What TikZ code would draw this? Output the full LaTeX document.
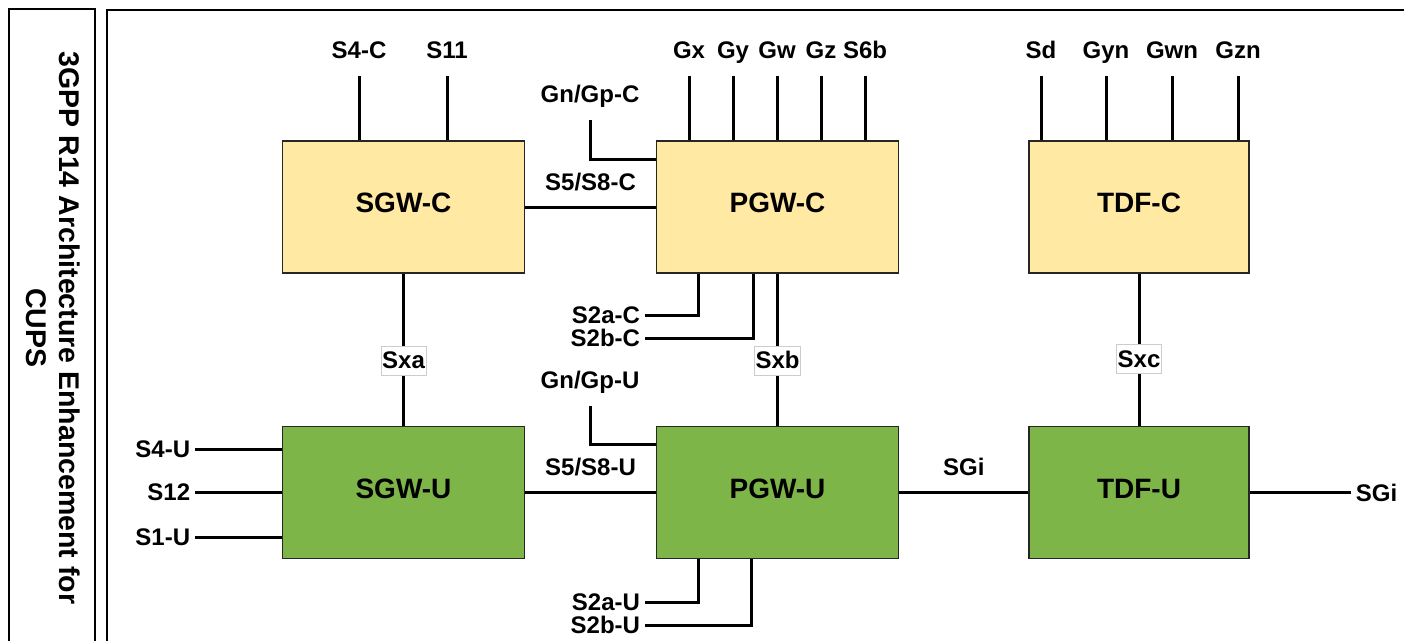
\documentclass[tikz,border=0pt]{standalone}
\usepackage{fontspec}
\setmainfont{Liberation Sans}
\usetikzlibrary{positioning, calc}
\definecolor{cpyellow}{HTML}{FFE9A3}
\definecolor{upgreen}{HTML}{7DB548}
\tikzset{
  nf/.style={draw=black!85, line width=1.8pt, minimum width=242pt, minimum height=132pt,
    text depth=8pt, font=\fontsize{28}{32}\selectfont\bfseries},
  cplane/.style={nf, fill=cpyellow},
  uplane/.style={nf, fill=upgreen},
  lbl/.style={font=\fontsize{24}{28}\selectfont\bfseries, inner sep=2pt, outer xsep=3pt},
  ifbox/.style={lbl, fill=white, draw=black!20, line width=0.6pt, inner sep=1pt,
    outer sep=0pt, minimum height=29pt},
  link/.style={line width=3pt},
  frame/.style={line width=2pt}
}

\begin{document}
\begin{tikzpicture}[x=1pt,y=-1pt]
  \useasboundingbox (0,0) rectangle (1404,640);
  % control plane
  \node[cplane] (sgwc) at (403.5,207) {SGW-C};
  \node[cplane] (pgwc) at (777.5,207) {PGW-C};
  \node[cplane, minimum width=220pt] (tdfc) at (1139,207) {TDF-C};
  % user plane
  \node[uplane] (sgwu) at (403.5,492.5) {SGW-U};
  \node[uplane] (pgwu) at (777.5,492.5) {PGW-U};
  \node[uplane, minimum width=220pt] (tdfu) at (1139,492.5) {TDF-U};

  % interfaces on top
  \foreach \x/\lab/\txt/\tgt in {359/s4c/S4-C/sgwc, 447/s11/S11/sgwc,
      689/gx/Gx/pgwc, 733/gy/Gy/pgwc, 777/gw/Gw/pgwc, 821/gz/Gz/pgwc, 865/s6b/S6b/pgwc,
      1041/sd/Sd/tdfc, 1106/gyn/Gyn/tdfc, 1172/gwn/Gwn/tdfc, 1238/gzn/Gzn/tdfc}{
    \node[lbl, anchor=base] (\lab) at (\x,58) {\txt};
    \draw[link] ([yshift=-18pt]\lab.base) -- (\lab.base |- \tgt.north);
  }

  \node[lbl, anchor=base] (gngpc) at (590,102) {Gn/Gp-C};
  \draw[link] ([yshift=-18pt]gngpc.base) |- ([yshift=-19pt]pgwc.north west);
  \draw[link] (sgwc) -- node[lbl, midway, anchor=base, yshift=17pt] (s58c) {S5/S8-C} (pgwc);

  \node[lbl, anchor=east] (s2ac) at (645,315) {S2a-C};
  \node[lbl, anchor=east] (s2bc) at (645,338) {S2b-C};
  \draw[link] ([xshift=-79.5pt]pgwc.south) |- (s2ac.east);
  \draw[link] ([xshift=-24.5pt]pgwc.south) |- (s2bc.east);

  % control to user plane
  \draw[link] (sgwc) -- node[ifbox, pos=0.57] (sxa) {Sxa} (sgwu);
  \draw[link] (pgwc) -- node[ifbox, pos=0.57] (sxb) {Sxb} (pgwu);
  \draw[link] (tdfc) -- node[ifbox, pos=0.56] (sxc) {Sxc} (tdfu);

  % user plane interfaces
  \foreach \lab/\txt/\dy in {s4u/S4-U/43.5, s12/S12/0, s1u/S1-U/-44.5}{
    \node[lbl, anchor=east] (\lab) at ([xshift=-86.5pt, yshift=\dy pt]sgwu.west) {\txt};
    \draw[link] (\lab.east) -- (\lab.east -| sgwu.west);
  }

  \node[lbl, anchor=base] (gngpu) at (590,388) {Gn/Gp-U};
  \draw[link] ([yshift=-18pt]gngpu.base) |- ([yshift=-19pt]pgwu.north west);
  \draw[link] (sgwu) -- node[lbl, midway, anchor=base, yshift=17pt] (s58u) {S5/S8-U} (pgwu);
  \draw[link] (pgwu) -- node[lbl, midway, anchor=base, yshift=17pt] (sgi) {SGi} (tdfu);
  \node[lbl, anchor=west] (sgiout) at ([xshift=101pt]tdfu.east) {SGi};
  \draw[link] (tdfu) -- (sgiout.west);

  \node[lbl, anchor=east] (s2au) at (645,602) {S2a-U};
  \node[lbl, anchor=east] (s2bu) at (645,625) {S2b-U};
  \draw[link] ([xshift=-79.5pt]pgwu.south) |- (s2au.east);
  \draw[link] ([xshift=-26.5pt]pgwu.south) |- (s2bu.east);

  % frames and title
  \draw[frame] (9,641) -- (9,9) -- (95,9) -- (95,641);
  \draw[frame] (107,641) -- (107,10) -- (1405,10);
  \node[font=\fontsize{28.5}{33}\selectfont\bfseries, align=center, rotate=-90] (title)
    at (53,328) {3GPP R14 Architecture Enhancement for\\CUPS};
\end{tikzpicture}
\end{document}
